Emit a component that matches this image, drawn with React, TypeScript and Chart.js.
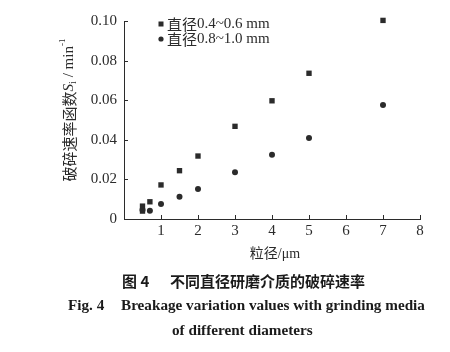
import React, { useEffect, useRef } from "react";
import { Chart, registerables } from "chart.js";

Chart.register(...registerables);

const xSmall = [0.5, 0.5, 0.7, 1, 1.5, 2, 3, 4, 5, 7];
const ySmall = [0.0065, 0.004, 0.0087, 0.0172, 0.0244, 0.0318, 0.0468, 0.0597, 0.0736, 0.1003];
const xLarge = [0.5, 0.7, 1, 1.5, 2, 3, 4, 5, 7];
const yLarge = [0.0045, 0.0042, 0.0076, 0.0113, 0.0152, 0.0236, 0.0325, 0.0409, 0.0576];
const labelSmall = "直径0.4~0.6 mm";
const labelLarge = "直径0.8~1.0 mm";
const xTicks = [0, 1, 2, 3, 4, 5, 6, 7, 8];
const yTicks = [0, 0.02, 0.04, 0.06, 0.08, 0.1];
const yTitleCn = "破碎速率函数";
const caption1a = "图 4";
const caption1b = "不同直径研磨介质的破碎速率";
const caption2a = "Fig. 4";
const caption2b = "Breakage variation values with grinding media";
const caption3 = "of different diameters";

const INK = "#2b2b2b";
const SERIF = "'Liberation Serif', 'DejaVu Serif', serif";
const CJK = "'Noto Sans CJK SC', sans-serif";

const decorPlugin = {
  id: "decor",
  afterDraw(chart: any) {
    const ctx = chart.ctx as CanvasRenderingContext2D;
    const xs = chart.scales.x;
    const ys = chart.scales.y;
    const area = chart.chartArea;
    ctx.save();
    ctx.strokeStyle = INK;
    ctx.lineWidth = 1;
    // inward ticks
    xTicks.forEach((v) => {
      if (v === 0) return;
      const px = Math.round(xs.getPixelForValue(v)) + 0.5;
      ctx.beginPath();
      ctx.moveTo(px, area.bottom);
      ctx.lineTo(px, area.bottom - 4);
      ctx.stroke();
    });
    yTicks.forEach((v) => {
      if (v === 0) return;
      const py = Math.round(ys.getPixelForValue(v)) + 0.5;
      ctx.beginPath();
      ctx.moveTo(area.left, py);
      ctx.lineTo(area.left + 4, py);
      ctx.stroke();
    });

    // legend
    ctx.fillStyle = INK;
    ctx.textBaseline = "middle";
    ctx.textAlign = "left";
    const lx = 161;
    ctx.fillRect(lx - 2.5, 24 - 2.5, 5, 5);
    ctx.beginPath();
    ctx.arc(lx, 39, 2.6, 0, Math.PI * 2);
    ctx.fill();
    const drawMixed = (txt: string, x: number, y: number) => {
      let cx = x;
      for (const ch of txt) {
        const isCjk = /[\u4e00-\u9fff]/.test(ch);
        ctx.font = isCjk ? `15px ${CJK}` : `15px ${SERIF}`;
        ctx.fillText(ch, cx, y);
        cx += ctx.measureText(ch).width;
      }
    };
    drawMixed(chart.data.datasets[0].label, 167, 24);
    drawMixed(chart.data.datasets[1].label, 167, 39);

    // x title
    {
      ctx.font = `14px ${CJK}`;
      const w1 = ctx.measureText("粒径").width;
      ctx.font = `14px ${SERIF}`;
      const w2 = ctx.measureText("/μm").width;
      const sx = 275 - (w1 + w2) / 2;
      ctx.font = `14px ${CJK}`;
      ctx.fillText("粒径", sx, 253);
      ctx.font = `14px ${SERIF}`;
      ctx.fillText("/μm", sx + w1, 254);
    }

    // y title (rotated)
    ctx.save();
    ctx.translate(69, 110);
    ctx.rotate(-Math.PI / 2);
    ctx.textBaseline = "middle";
    const parts: { t: string; f: string; dy: number }[] = [
      { t: yTitleCn, f: `15px ${CJK}`, dy: 0 },
      { t: "S", f: `italic 15px ${SERIF}`, dy: 0 },
      { t: "i", f: `10px ${SERIF}`, dy: 4 },
      { t: " / min", f: `15px ${SERIF}`, dy: 0 },
      { t: "-1", f: `9px ${SERIF}`, dy: -6 },
    ];
    let tw = 0;
    parts.forEach((p) => {
      ctx.font = p.f;
      tw += ctx.measureText(p.t).width;
    });
    let cx = -tw / 2;
    parts.forEach((p) => {
      ctx.font = p.f;
      ctx.fillText(p.t, cx, p.dy);
      cx += ctx.measureText(p.t).width;
    });
    ctx.restore();

    // captions
    ctx.fillStyle = "#1a1a1a";
    ctx.textBaseline = "middle";
    ctx.font = `bold 15px ${CJK}`;
    ctx.fillText(caption1a, 122, 281);
    ctx.fillText(caption1b, 170, 281);
    ctx.font = `bold 15.2px ${SERIF}`;
    ctx.fillText(caption2a, 68, 306);
    ctx.fillText(caption2b, 121, 306);
    ctx.fillText(caption3, 172, 331);
    ctx.restore();
  },
};

export default function App() {
  const ref = useRef<HTMLCanvasElement | null>(null);
  useEffect(() => {
    if (!ref.current) return;
    const chart = new Chart(ref.current, {
      type: "scatter",
      data: {
        datasets: [
          {
            label: labelSmall,
            data: xSmall.map((x, i) => ({ x, y: ySmall[i] })),
            pointStyle: "rect",
            pointRadius: 3.8,
            backgroundColor: INK,
            borderColor: INK,
            borderWidth: 0,
            clip: false,
          },
          {
            label: labelLarge,
            data: xLarge.map((x, i) => ({ x, y: yLarge[i] })),
            pointStyle: "circle",
            pointRadius: 3,
            backgroundColor: INK,
            borderColor: INK,
            borderWidth: 0,
            clip: false,
          },
        ],
      },
      options: {
        animation: false,
        responsive: false,
        devicePixelRatio: 1,
        layout: { padding: { top: 21, right: 30, left: 0, bottom: 0 } },
        plugins: { legend: { display: false }, tooltip: { enabled: false } },
        scales: {
          x: {
            type: "linear",
            min: 0,
            max: 8,
            afterFit: (s: any) => {
              s.height = 133;
            },
            afterBuildTicks: (s: any) => {
              s.ticks = xTicks.map((v) => ({ value: v }));
            },
            grid: { display: false, drawTicks: false },
            border: { display: true, color: INK, width: 1 },
            ticks: {
              padding: 3,
              color: INK,
              font: { family: SERIF, size: 15 },
              callback: (v: any) => (v === 0 ? "" : String(v)),
            },
          },
          y: {
            type: "linear",
            min: 0,
            max: 0.1,
            afterFit: (s: any) => {
              s.width = 124;
            },
            afterBuildTicks: (s: any) => {
              s.ticks = yTicks.map((v) => ({ value: v }));
            },
            grid: { display: false, drawTicks: false },
            border: { display: true, color: INK, width: 1 },
            ticks: {
              padding: 7,
              color: INK,
              font: { family: SERIF, size: 15 },
              callback: (v: any) => (v === 0 ? "0" : Number(v).toFixed(2)),
            },
          },
        },
      },
      plugins: [decorPlugin],
    } as any);
    return () => chart.destroy();
  }, []);
  return (
    <div style={{ position: "absolute", left: 0, top: 0, width: 450, height: 352, background: "#fff" }}>
      <canvas ref={ref} width={450} height={352} />
    </div>
  );
}
